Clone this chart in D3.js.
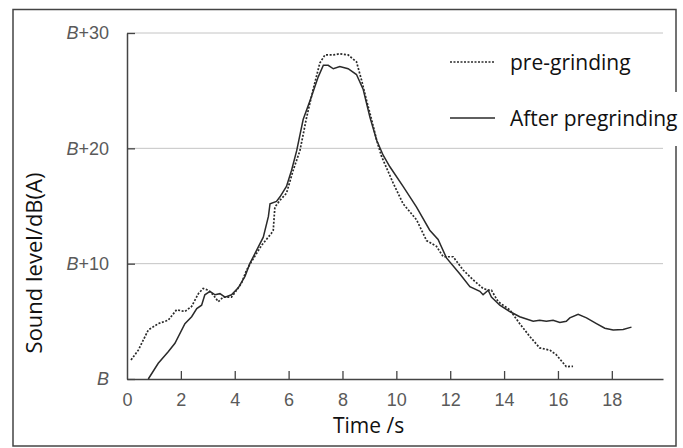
<!DOCTYPE html>
<html>
<head>
<meta charset="utf-8">
<script src="https://cdn.jsdelivr.net/npm/d3@7"></script>
<style>
  body { margin: 0; background: #fff; }
  svg { display: block; }
</style>
</head>
<body>
<div id="chart"></div>
<script>
// pre-grinding (dotted)
const preTime = [0.15, 0.42, 0.79, 1.16, 1.53, 1.84, 2.15, 2.4, 2.65, 2.83, 3.02, 3.2, 3.39, 3.57, 3.88, 4.07, 4.25, 4.44, 4.6, 5.0, 5.35, 5.43, 5.49, 5.68, 5.92, 6.17, 6.42, 6.67, 6.91, 7.16, 7.35, 7.66, 7.9, 8.21, 8.52, 8.71, 8.89, 9.08, 9.27, 9.45, 9.88, 10.25, 10.75, 11.12, 11.49, 11.74, 11.98, 12.11, 12.48, 12.85, 13.22, 13.41, 13.53, 13.78, 14.21, 14.58, 14.95, 15.32, 15.7, 15.94, 16.31, 16.56];
const preLevel = [1.65, 2.5, 4.25, 4.8, 5.1, 6.0, 5.85, 6.3, 7.4, 7.85, 7.7, 7.3, 6.7, 7.1, 7.1, 7.7, 8.3, 9.45, 10.1, 11.6, 12.6, 12.9, 14.9, 15.5, 16.1, 18.1, 19.8, 22.7, 25.1, 27.4, 28.1, 28.1, 28.2, 28.1, 27.5, 25.9, 24.2, 22.5, 20.7, 19.3, 17.0, 15.2, 13.8, 12.0, 11.5, 10.6, 10.6, 10.6, 9.45, 8.6, 7.85, 7.7, 7.7, 6.7, 6.0, 4.8, 3.7, 2.7, 2.5, 2.1, 1.07, 1.1];

// after pregrinding (solid)
const afterTime = [0.79, 1.16, 1.53, 1.78, 2.15, 2.4, 2.59, 2.77, 2.89, 3.08, 3.27, 3.45, 3.64, 3.88, 4.13, 4.38, 4.56, 5.06, 5.25, 5.31, 5.55, 5.68, 5.92, 6.11, 6.3, 6.54, 6.85, 7.1, 7.29, 7.47, 7.66, 7.9, 8.21, 8.52, 8.77, 9.02, 9.27, 9.51, 9.76, 10.25, 10.75, 11.24, 11.55, 11.86, 12.36, 12.73, 13.1, 13.22, 13.41, 13.53, 13.84, 14.21, 14.58, 15.08, 15.32, 15.57, 15.82, 16.07, 16.31, 16.44, 16.75, 17.06, 17.43, 17.74, 18.05, 18.42, 18.73];
const afterLevel = [0, 1.36, 2.37, 3.1, 4.8, 5.4, 6.1, 6.4, 7.3, 7.6, 7.3, 7.4, 7.1, 7.3, 7.9, 8.9, 10.0, 12.3, 14.1, 15.2, 15.4, 15.8, 16.7, 18.1, 19.8, 22.5, 24.5, 26.2, 27.2, 27.2, 26.9, 27.1, 26.9, 26.4, 25.1, 22.7, 20.7, 19.4, 18.4, 16.7, 14.9, 12.9, 12.1, 10.5, 9.1, 8.0, 7.6, 7.3, 7.7, 7.1, 6.4, 5.85, 5.4, 5.0, 5.1, 5.0, 5.1, 4.9, 5.0, 5.3, 5.6, 5.3, 4.8, 4.4, 4.25, 4.3, 4.5];

const xTicks = [0, 2, 4, 6, 8, 10, 12, 14, 16, 18];
const yTicks = [0, 10, 20, 30];
const yTickLabels = ["B", "B+10", "B+20", "B+30"];
const seriesNames = ["pre-grinding", "After pregrinding"];

const W = 683, H = 448;
const svg = d3.select("#chart").append("svg").attr("width", W).attr("height", H);

// outer frame
svg.append("rect")
  .attr("x", 13).attr("y", 9.5).attr("width", 663).attr("height", 436.5)
  .attr("fill", "none").attr("stroke", "#444").attr("stroke-width", 1.5);

const x = d3.scaleLinear().domain([0, 19.9]).range([127, 663]);
const y = d3.scaleLinear().domain([0, 30]).range([379, 33]);

// gridlines
svg.append("g")
  .selectAll("line")
  .data(yTicks.filter((d) => d > 0))
  .enter()
  .append("line")
  .attr("x1", x(0)).attr("x2", x(19.9))
  .attr("y1", (d) => y(d)).attr("y2", (d) => y(d))
  .attr("stroke", "#c4c4c4").attr("stroke-width", 1);

// x axis, ticks pointing up
const xAxis = d3.axisBottom(x).tickValues(xTicks).tickSizeInner(-8).tickSizeOuter(0).tickPadding(14);
const gx = svg.append("g").attr("transform", "translate(0,379)").call(xAxis);
gx.select(".domain").attr("stroke", "#444").attr("stroke-width", 1.5);
gx.selectAll(".tick line").attr("stroke", "#444").attr("stroke-width", 1.3)
  .attr("opacity", (d) => (d === 0 ? 0 : 1));
gx.selectAll(".tick text")
  .attr("fill", "#5a5a5a")
  .style("font-family", "'Liberation Sans', Arial, sans-serif")
  .style("font-size", "18px");

// y axis, ticks pointing right
const yAxis = d3.axisLeft(y).tickValues(yTicks).tickSizeInner(-8).tickSizeOuter(0).tickPadding(18)
  .tickFormat((d, i) => yTickLabels[i]);
const gy = svg.append("g").attr("transform", "translate(127,0)").call(yAxis);
gy.select(".domain").attr("stroke", "#444").attr("stroke-width", 1.5);
gy.selectAll(".tick line").attr("stroke", "#444").attr("stroke-width", 1.3);
gy.selectAll(".tick text")
  .attr("fill", "#5a5a5a")
  .style("font-family", "'Liberation Sans', Arial, sans-serif")
  .style("font-size", "18px")
  .text(null)
  .each(function (d, i) {
    const t = d3.select(this);
    t.append("tspan").attr("font-style", "italic").text("B");
    const rest = yTickLabels[i].slice(1);
    if (rest) t.append("tspan").text(rest);
  });

// lines
const line = d3.line().x((d) => x(d[0])).y((d) => y(d[1]));
const preData = preTime.map((t, i) => [t, preLevel[i]]);
const afterData = afterTime.map((t, i) => [t, afterLevel[i]]);

svg.append("path").datum(preData)
  .attr("d", line).attr("fill", "none")
  .attr("stroke", "#2a2a2a").attr("stroke-width", 1.7)
  .attr("stroke-dasharray", "2,1.6");

svg.append("path").datum(afterData)
  .attr("d", line).attr("fill", "none")
  .attr("stroke", "#2a2a2a").attr("stroke-width", 1.5);

// axis titles
const titleFont = "'Open Sans', sans-serif";
svg.append("text")
  .attr("x", 333).attr("y", 433)
  .style("font-family", titleFont).style("font-size", "21px").attr("fill", "#111")
  .text("Time /s");

svg.append("text")
  .attr("transform", "translate(42,263) rotate(-90)")
  .attr("text-anchor", "middle")
  .style("font-family", titleFont).style("font-size", "22px").attr("fill", "#111")
  .text("Sound level/dB(A)");

// legend, white patch hides part of the frame
svg.append("rect")
  .attr("x", 505).attr("y", 92).attr("width", 178).attr("height", 54)
  .attr("fill", "#fff");

const legend = svg.append("g");
const legendY = [62, 118];
seriesNames.forEach((name, i) => {
  legend.append("line")
    .attr("x1", 450).attr("x2", 495)
    .attr("y1", legendY[i]).attr("y2", legendY[i])
    .attr("stroke", "#2a2a2a")
    .attr("stroke-width", i === 0 ? 1.4 : 1.5)
    .attr("stroke-dasharray", i === 0 ? "2,1.5" : null);
  legend.append("text")
    .attr("x", 510).attr("y", legendY[i] + 8)
    .style("font-family", titleFont).style("font-size", "21px").attr("fill", "#111")
    .text(name);
});
</script>
</body>
</html>
